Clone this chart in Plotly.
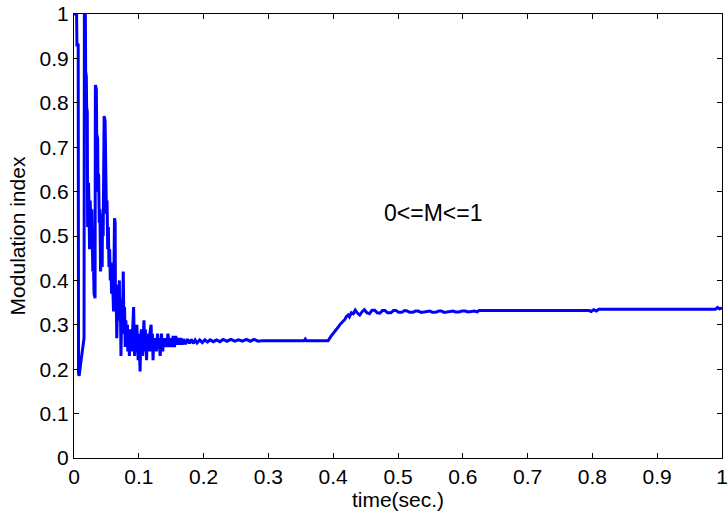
import plotly.graph_objects as go

# time (s) and modulation index
time_s = [
    0.000, 0.004, 0.0045, 0.0065, 0.007, 0.008, 0.010, 0.012, 0.014, 0.0155,
    0.016, 0.0175, 0.018, 0.019, 0.0195, 0.0205, 0.021, 0.0225, 0.024, 0.025,
    0.0265, 0.0275, 0.029, 0.030, 0.031, 0.0325, 0.033, 0.0345, 0.035, 0.0365,
    0.037, 0.038, 0.039, 0.040, 0.041, 0.042, 0.0435, 0.044, 0.045, 0.0465,
    0.048, 0.0485, 0.0495, 0.050, 0.051, 0.052, 0.053, 0.054, 0.055, 0.056,
    0.057, 0.058, 0.0595, 0.061, 0.0625, 0.0635, 0.064, 0.065, 0.066, 0.067,
    0.068, 0.069, 0.070, 0.0705, 0.0715, 0.0725, 0.0735, 0.0745, 0.0755, 0.076,
    0.077, 0.078, 0.079, 0.080, 0.081, 0.0825, 0.083, 0.084, 0.0855, 0.086,
    0.087, 0.088, 0.089, 0.0895, 0.090, 0.091, 0.092, 0.093, 0.0935, 0.095,
    0.096, 0.097, 0.098, 0.099, 0.100, 0.101, 0.102, 0.103, 0.104, 0.105,
    0.106, 0.107, 0.108, 0.109, 0.110, 0.111, 0.112, 0.113, 0.114, 0.115,
    0.116, 0.117, 0.119, 0.120, 0.121, 0.122, 0.123, 0.125, 0.126, 0.127,
    0.129, 0.130, 0.131, 0.133, 0.134, 0.135, 0.137, 0.138, 0.140, 0.141,
    0.143, 0.145, 0.147, 0.149, 0.151, 0.153, 0.155, 0.157, 0.159, 0.161,
    0.163, 0.165, 0.167, 0.169, 0.172, 0.175, 0.178, 0.181, 0.184, 0.187,
    0.190, 0.194, 0.198, 0.202, 0.206, 0.210, 0.215, 0.220, 0.225, 0.230,
    0.236, 0.242, 0.248, 0.254, 0.260, 0.266, 0.272, 0.278, 0.284, 0.290,
    0.355, 0.357, 0.359, 0.392, 0.397, 0.400, 0.402, 0.405, 0.408, 0.410,
    0.413, 0.416, 0.418, 0.420, 0.423, 0.425, 0.428, 0.431, 0.434, 0.437,
    0.441, 0.445, 0.448, 0.452, 0.456, 0.460, 0.464, 0.468, 0.472, 0.476,
    0.480, 0.484, 0.489, 0.493, 0.497, 0.501, 0.506, 0.510, 0.514, 0.518,
    0.523, 0.527, 0.531, 0.536, 0.540, 0.545, 0.549, 0.553, 0.558, 0.563,
    0.567, 0.571, 0.576, 0.580, 0.585, 0.589, 0.594, 0.599, 0.604, 0.608,
    0.613, 0.618, 0.622, 0.625, 0.795, 0.798, 0.802, 0.806, 0.810, 0.990,
    0.993, 0.996, 1.000,
]
mod_index = [
    1.00, 1.00, 0.93, 0.93, 0.19, 0.185, 0.21, 0.23, 0.26, 0.27,
    1.00, 1.00, 0.87, 0.86, 0.79, 0.78, 0.52, 0.62, 0.47, 0.58,
    0.50, 0.56, 0.42, 0.44, 0.37, 0.36, 0.84, 0.83, 0.73, 0.72,
    0.60, 0.64, 0.53, 0.56, 0.42, 0.50, 0.43, 0.55, 0.50, 0.77,
    0.76, 0.71, 0.70, 0.55, 0.58, 0.47, 0.52, 0.43, 0.47, 0.40,
    0.44, 0.37, 0.40, 0.33, 0.54, 0.53, 0.33, 0.38, 0.27, 0.32,
    0.39, 0.34, 0.40, 0.31, 0.36, 0.23, 0.34, 0.28, 0.37, 0.42,
    0.30, 0.34, 0.25, 0.31, 0.27, 0.30, 0.24, 0.29, 0.23, 0.25,
    0.28, 0.29, 0.26, 0.24, 0.27, 0.31, 0.34, 0.26, 0.23, 0.29,
    0.25, 0.30, 0.26, 0.22, 0.28, 0.24, 0.195, 0.27, 0.29, 0.26,
    0.23, 0.28, 0.31, 0.24, 0.29, 0.26, 0.22, 0.28, 0.25, 0.27,
    0.24, 0.28, 0.30, 0.24, 0.28, 0.22, 0.27, 0.25, 0.27, 0.24,
    0.28, 0.25, 0.27, 0.23, 0.26, 0.28, 0.24, 0.27, 0.25, 0.27,
    0.25, 0.28, 0.25, 0.27, 0.25, 0.275, 0.25, 0.275, 0.255, 0.27,
    0.255, 0.27, 0.255, 0.268, 0.256, 0.268, 0.258, 0.267, 0.258, 0.266,
    0.259, 0.266, 0.26, 0.266, 0.261, 0.266, 0.262, 0.266, 0.262, 0.267,
    0.263, 0.267, 0.263, 0.266, 0.263, 0.267, 0.263, 0.267, 0.263, 0.264,
    0.264, 0.268, 0.264, 0.264, 0.275, 0.28, 0.285, 0.29, 0.295, 0.30,
    0.305, 0.31, 0.312, 0.318, 0.322, 0.318, 0.327, 0.325, 0.333, 0.327,
    0.322, 0.33, 0.334, 0.327, 0.325, 0.333, 0.333, 0.327, 0.326, 0.332,
    0.332, 0.327, 0.327, 0.332, 0.332, 0.328, 0.328, 0.332, 0.331, 0.328,
    0.328, 0.331, 0.331, 0.328, 0.329, 0.331, 0.331, 0.328, 0.328, 0.331,
    0.331, 0.328, 0.329, 0.331, 0.331, 0.329, 0.329, 0.331, 0.331, 0.329,
    0.33, 0.331, 0.329, 0.332, 0.332, 0.330, 0.334, 0.331, 0.335, 0.335,
    0.339, 0.336, 0.338,
]

FONT = "Liberation Sans, Arial, sans-serif"
FSIZE = 21

fig = go.Figure()
fig.add_trace(
    go.Scatter(
        x=time_s,
        y=mod_index,
        mode="lines",
        line=dict(color="#0000ff", width=3),
        showlegend=False,
    )
)

fig.add_annotation(
    x=0.554, y=0.552, xref="x", yref="y",
    text="0<=M<=1", showarrow=False,
    font=dict(family=FONT, size=23, color="black"),
)

axis_style = dict(
    range=[0, 1],
    dtick=0.1,
    automargin=False,
    showgrid=False,
    zeroline=False,
    showline=True,
    linecolor="black",
    linewidth=1,
    mirror="ticks",
    ticks="inside",
    ticklen=5,
    tickcolor="black",
    tickfont=dict(family=FONT, size=FSIZE, color="black"),
)

fig.update_xaxes(
    **axis_style,
    title=dict(text="time(sec.)", font=dict(family=FONT, size=FSIZE, color="black"), standoff=0),
)
fig.update_yaxes(
    **axis_style,
    title=dict(text="Modulation index", font=dict(family=FONT, size=FSIZE, color="black"), standoff=8),
)

fig.update_layout(
    width=728,
    height=515,
    margin=dict(l=74, r=6, t=14, b=57),
    plot_bgcolor="white",
    paper_bgcolor="white",
)

# drop the default 8px page margin so the figure fills the window
fig.write_html(
    "out.html",
    config={"displayModeBar": False},
    post_script="document.body.style.margin='0';",
)
